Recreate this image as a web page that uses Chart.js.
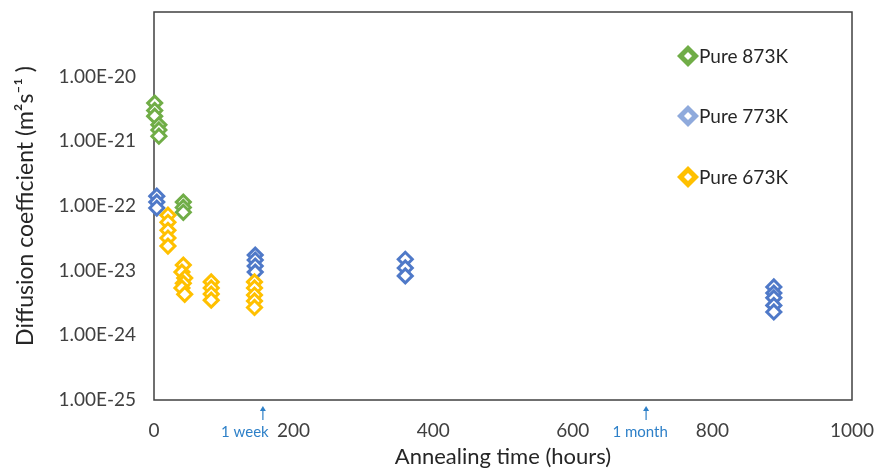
<!DOCTYPE html>
<html>
<head>
<meta charset="utf-8">
<script src="https://cdn.jsdelivr.net/npm/chart.js@4/dist/chart.umd.min.js"></script>
<style>
    html, body { margin: 0; padding: 0; background: #ffffff; }
    #wrap { width: 877px; height: 470px; }
</style>
</head>
<body>
<div id="wrap"><canvas id="diffChart" width="877" height="470"></canvas></div>
<script>
// ============================================
// DATA
// ============================================
const seriesNames = ['Pure 873K', 'Pure 773K', 'Pure 673K'];

// annealing time (hours)
const time873 = [1, 1, 1, 7, 7, 7, 42, 42, 42];
const time773 = [4, 4, 4, 145, 145, 145, 145, 360, 360, 360, 888, 888, 888, 888, 888];
const time673 = [20, 20, 20, 20, 20, 42, 40, 44, 42, 40, 44, 82, 82, 82, 82, 144, 144, 144, 144, 144];

// diffusion coefficient (m^2 s^-1)
const diff873 = [3.9e-21, 3.0e-21, 2.45e-21, 1.8e-21, 1.5e-21, 1.2e-21, 1.15e-22, 9.5e-23, 8.0e-23];
const diff773 = [1.42e-22, 1.15e-22, 9.3e-23, 1.74e-23, 1.46e-23, 1.18e-23, 9.5e-24,
                 1.5e-23, 1.1e-23, 8.3e-24, 5.6e-24, 4.5e-24, 3.8e-24, 2.9e-24, 2.3e-24];
const diff673 = [7.2e-23, 5.6e-23, 4.2e-23, 3.2e-23, 2.4e-23,
                 1.22e-23, 9.5e-24, 7.7e-24, 6.4e-24, 5.4e-24, 4.3e-24,
                 6.7e-24, 5.4e-24, 4.35e-24, 3.5e-24,
                 6.7e-24, 5.4e-24, 4.2e-24, 3.4e-24, 2.7e-24];

// axis ticks
const xTicks = [0, 200, 400, 600, 800, 1000];
const xTickLabels = ['0', '200', '400', '600', '800', '1000'];
const yTicks = [1e-25, 1e-24, 1e-23, 1e-22, 1e-21, 1e-20, 1e-19];
const yTickLabels = ['1.00E-25', '1.00E-24', '1.00E-23', '1.00E-22', '1.00E-21', '1.00E-20', ''];

// time markers below the x axis
const markerTimes = [156, 705];
const markerLabels = ['1 week', '1 month'];

// ============================================
// STYLE
// ============================================
const FONT = 'Lato, "Open Sans", sans-serif';
const colors = {
    green: '#70AD47',
    blue: '#4F79C8',
    blueLegend: '#8FAADC',
    yellow: '#FFC000',
    text: '#404040',
    title: '#262626',
    note: '#2E80C8',
    frame: '#404040'
};

function toPoints(xs, ys) {
    return xs.map((x, i) => ({ x: x, y: ys[i] }));
}

function diamond(ctx, x, y, r) {
    ctx.beginPath();
    ctx.moveTo(x - r, y);
    ctx.lineTo(x, y - r);
    ctx.lineTo(x + r, y);
    ctx.lineTo(x, y + r);
    ctx.closePath();
}

// frame around the plot area
const framePlugin = {
    id: 'frame',
    beforeDatasetsDraw(chart) {
        const { ctx, chartArea: a } = chart;
        ctx.save();
        ctx.strokeStyle = colors.frame;
        ctx.lineWidth = 1.5;
        ctx.strokeRect(a.left, a.top, a.right - a.left, a.bottom - a.top);
        ctx.restore();
    }
};

// legend drawn inside the plot, top right
const legendPlugin = {
    id: 'insideLegend',
    afterDraw(chart) {
        const { ctx } = chart;
        const legendColors = [colors.green, colors.blueLegend, colors.yellow];
        const x0 = 688;
        const ys = [56, 116, 177];
        ctx.save();
        ctx.font = '19px ' + FONT;
        ctx.textBaseline = 'middle';
        ctx.textAlign = 'left';
        seriesNames.forEach((name, i) => {
            ctx.fillStyle = legendColors[i];
            diamond(ctx, x0, ys[i], 11);
            ctx.fill();
            ctx.fillStyle = '#ffffff';
            diamond(ctx, x0, ys[i], 4);
            ctx.fill();
            ctx.fillStyle = colors.title;
            ctx.fillText(name, x0 + 11, ys[i] + 1);
        });
        ctx.restore();
    }
};

// "1 week" / "1 month" arrows under the x axis
const notePlugin = {
    id: 'timeNotes',
    afterDraw(chart) {
        const { ctx } = chart;
        const xs = chart.scales.x;
        const bottom = chart.chartArea.bottom;
        const offsets = [-18, -6];
        ctx.save();
        ctx.strokeStyle = colors.note;
        ctx.fillStyle = colors.note;
        ctx.lineWidth = 1.2;
        markerTimes.forEach((t, i) => {
            const px = xs.getPixelForValue(t);
            ctx.beginPath();
            ctx.moveTo(px, bottom + 20);
            ctx.lineTo(px, bottom + 8);
            ctx.stroke();
            ctx.beginPath();
            ctx.moveTo(px, bottom + 6);
            ctx.lineTo(px - 3, bottom + 11);
            ctx.lineTo(px + 3, bottom + 11);
            ctx.closePath();
            ctx.fill();
            ctx.font = '15px ' + FONT;
            ctx.textAlign = 'center';
            ctx.textBaseline = 'middle';
            ctx.fillText(markerLabels[i], px + offsets[i], bottom + 32);
        });
        ctx.restore();
    }
};

const pointStyle = (color) => ({
    pointStyle: 'rectRot',
    pointRadius: 7,
    pointHoverRadius: 7,
    pointBorderWidth: 3,
    pointBorderColor: color,
    pointBackgroundColor: '#ffffff',
    borderColor: color,
    backgroundColor: '#ffffff',
    showLine: false,
    clip: false
});

const config = {
    type: 'scatter',
    data: {
        datasets: [
            Object.assign({ label: seriesNames[2], data: toPoints(time673, diff673) }, pointStyle(colors.yellow)),
            Object.assign({ label: seriesNames[1], data: toPoints(time773, diff773) }, pointStyle(colors.blue)),
            Object.assign({ label: seriesNames[0], data: toPoints(time873, diff873) }, pointStyle(colors.green))
        ]
    },
    options: {
        responsive: false,
        animation: false,
        layout: { padding: { top: 12, right: 25, left: 0, bottom: 0 } },
        plugins: {
            legend: { display: false },
            tooltip: { enabled: false }
        },
        scales: {
            x: {
                type: 'linear',
                min: 0,
                max: 1000,
                afterBuildTicks: (scale) => { scale.ticks = xTicks.map(v => ({ value: v })); },
                afterFit: (scale) => {
                    scale.height = 70;
                    scale.paddingLeft = 0;
                    scale.paddingRight = 0;
                },
                grid: { display: false, drawTicks: false },
                border: { display: false },
                ticks: {
                    color: colors.text,
                    padding: 19,
                    maxRotation: 0,
                    font: { family: FONT, size: 19 },
                    callback: (value) => {
                        const i = xTicks.indexOf(value);
                        return i >= 0 ? xTickLabels[i] : '';
                    }
                },
                title: {
                    display: true,
                    text: 'Annealing time (hours)',
                    color: colors.title,
                    padding: { top: 0, bottom: 0 },
                    font: { family: FONT, size: 22 }
                }
            },
            y: {
                type: 'logarithmic',
                min: 1e-25,
                max: 1e-19,
                afterBuildTicks: (scale) => { scale.ticks = yTicks.map(v => ({ value: v })); },
                afterFit: (scale) => {
                    scale.width = 154;
                    scale.paddingTop = 0;
                    scale.paddingBottom = 0;
                },
                grid: { display: false, drawTicks: false },
                border: { display: false },
                ticks: {
                    color: colors.text,
                    padding: 18,
                    font: { family: FONT, size: 19 },
                    callback: (value) => {
                        const i = yTicks.findIndex(v => Math.abs(Math.log10(v) - Math.log10(value)) < 1e-6);
                        return i >= 0 ? yTickLabels[i] : '';
                    }
                },
                title: {
                    display: true,
                    text: 'Diffusion coefficient (m²s⁻¹ )',
                    color: colors.title,
                    padding: { top: 12, bottom: 0 },
                    font: { family: FONT, size: 23 }
                }
            }
        }
    },
    plugins: [framePlugin, legendPlugin, notePlugin]
};

new Chart(document.getElementById('diffChart'), config);
</script>
</body>
</html>
